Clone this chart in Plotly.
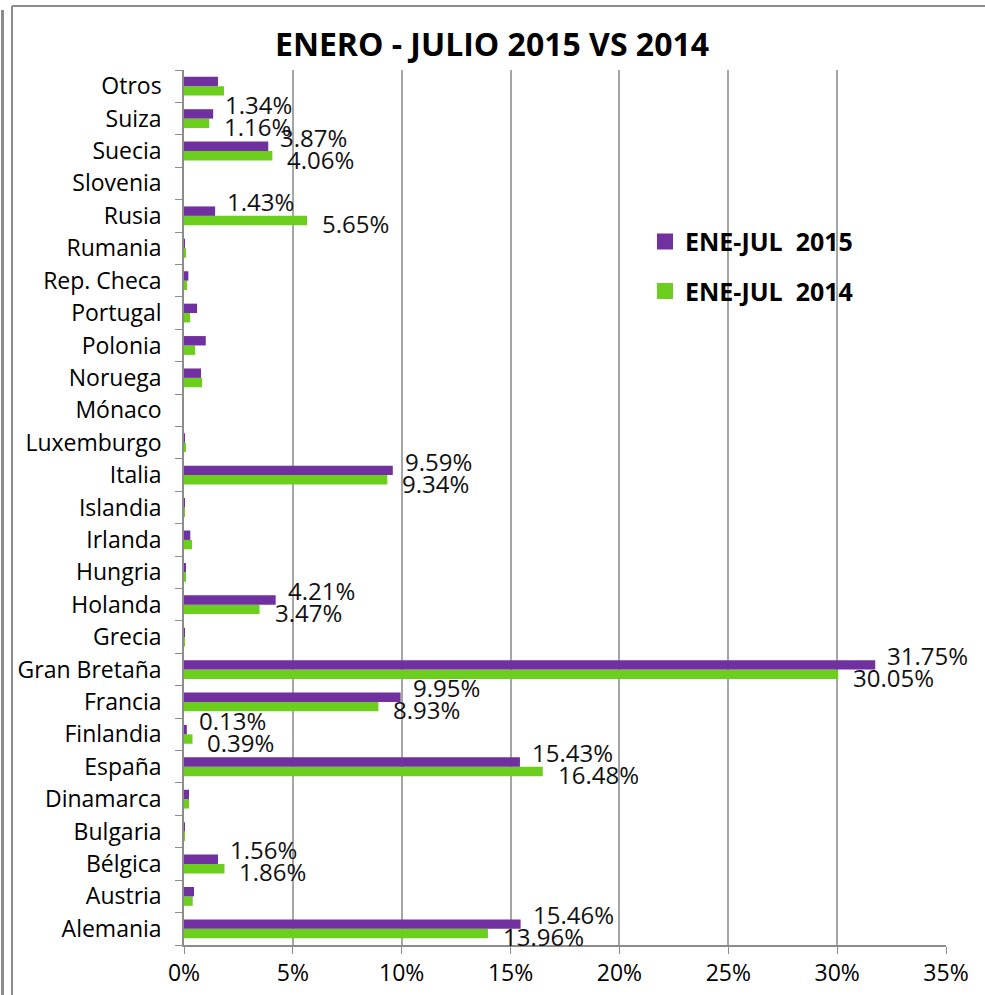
import plotly.graph_objects as go

countries = ["Alemania", "Austria", "Bélgica", "Bulgaria", "Dinamarca", "España",
             "Finlandia", "Francia", "Gran Bretaña", "Grecia", "Holanda", "Hungria",
             "Irlanda", "Islandia", "Italia", "Luxemburgo", "Mónaco", "Noruega",
             "Polonia", "Portugal", "Rep. Checa", "Rumania", "Rusia", "Slovenia",
             "Suecia", "Suiza", "Otros"]

ene_jul_2015 = [15.46, 0.46, 1.56, 0.01, 0.23, 15.43,
                0.13, 9.95, 31.75, 0.01, 4.21, 0.08,
                0.29, 0.01, 9.59, 0.02, 0.0, 0.78,
                1.00, 0.60, 0.20, 0.02, 1.43, 0.0,
                3.87, 1.34, 1.56]

ene_jul_2014 = [13.96, 0.40, 1.86, 0.02, 0.23, 16.48,
                0.39, 8.93, 30.05, 0.04, 3.47, 0.05,
                0.37, 0.04, 9.34, 0.05, 0.0, 0.83,
                0.51, 0.28, 0.14, 0.05, 5.65, 0.0,
                4.06, 1.16, 1.84]

labelled = ["Alemania", "Bélgica", "España", "Finlandia", "Francia", "Gran Bretaña",
            "Holanda", "Italia", "Rusia", "Suecia", "Suiza"]

x_ticks = [0, 5, 10, 15, 20, 25, 30, 35]
x_tick_text = ["0%", "5%", "10%", "15%", "20%", "25%", "30%", "35%"]

PURPLE = "#7030A0"
GREEN = "#6CCF1E"
FONT = "Open Sans"

fig = go.Figure()
fig.add_trace(go.Bar(y=countries, x=ene_jul_2014, orientation="h",
                     name="ENE-JUL\u00a0\u00a02014", marker_color=GREEN,
                     showlegend=False, marker_line_width=0))
fig.add_trace(go.Bar(y=countries, x=ene_jul_2015, orientation="h",
                     name="ENE-JUL\u00a0\u00a02015", marker_color=PURPLE,
                     showlegend=False, marker_line_width=0))
# legend entries with larger square swatches
fig.add_trace(go.Scatter(x=[None], y=[None], mode="markers", name="ENE-JUL\u00a0\u00a02015",
                         marker=dict(symbol="square", size=16, color=PURPLE),
                         legendgroup="g2015", legendrank=1, hoverinfo="skip"))
fig.add_trace(go.Scatter(x=[None], y=[None], mode="markers", name="ENE-JUL\u00a0\u00a02014",
                         marker=dict(symbol="square", size=16, color=GREEN),
                         legendgroup="g2014", legendrank=2, hoverinfo="skip"))

annotations = []
for c, v15, v14 in zip(countries, ene_jul_2015, ene_jul_2014):
    if c in labelled:
        annotations.append(dict(x=v15, y=c, xref="x", yref="y", text=f"{v15:.2f}%",
                                showarrow=False, xanchor="left", yanchor="middle",
                                xshift=10, yshift=14,
                                font=dict(family=FONT, size=24, color="#111")))
        annotations.append(dict(x=v14, y=c, xref="x", yref="y", text=f"{v14:.2f}%",
                                showarrow=False, xanchor="left", yanchor="middle",
                                xshift=13, yshift=-8,
                                font=dict(family=FONT, size=24, color="#111")))

L, R, T, B = 184, 39, 70, 50
W, H = 985, 995
pw, ph = W - L - R, H - T - B

def px_x(p):
    return (p - L) / pw

def px_y(p):
    return (H - B - p) / ph

shapes = [
    dict(type="line", xref="paper", yref="paper", x0=px_x(12), x1=px_x(12),
         y0=px_y(6), y1=px_y(1000), line=dict(color="#8c8c8c", width=2)),
    dict(type="line", xref="paper", yref="paper", x0=px_x(12), x1=px_x(990),
         y0=px_y(6), y1=px_y(6), line=dict(color="#8c8c8c", width=2)),
    dict(type="line", xref="paper", yref="paper", x0=px_x(2.5), x1=px_x(2.5),
         y0=px_y(10), y1=px_y(1000), line=dict(color="#8c8c8c", width=3)),
]

fig.update_layout(
    width=W, height=H,
    margin=dict(l=L, r=R, t=T, b=B, autoexpand=False),
    paper_bgcolor="white", plot_bgcolor="white",
    barmode="group", bargap=0.42, bargroupgap=0,
    title=dict(text="<b>ENERO - JULIO 2015 VS 2014</b>", x=492 / W, xref="container",
               xanchor="center", y=1 - 45 / H, yref="container", yanchor="middle",
               font=dict(family=FONT, size=32, color="black")),
    xaxis=dict(range=[0, 35], tickvals=x_ticks, ticktext=x_tick_text,
               showgrid=True, gridcolor="#a6a6a6", gridwidth=1.5,
               showline=True, linecolor="#8c8c8c", linewidth=1.5,
               ticks="outside", ticklen=7, tickcolor="#8c8c8c",
               tickfont=dict(family=FONT, size=23, color="black"),
               ticklabelstandoff=0,
               zeroline=False, fixedrange=True, automargin=False),
    yaxis=dict(type="category", categoryorder="array", categoryarray=countries,
               range=[-0.5, len(countries) - 0.5],
               showline=True, linecolor="#8c8c8c", linewidth=1.5,
               ticks="outside", ticklen=7, tickcolor="#8c8c8c", tickson="boundaries",
               tickfont=dict(family=FONT, size=23, color="black"),
               showgrid=False, ticklabelstandoff=16, automargin=False,
               fixedrange=True),
    legend=dict(x=0.605, y=0.83, xanchor="left", yanchor="top",
                traceorder="grouped", tracegroupgap=14,
                font=dict(family=FONT, size=25, color="black", weight="bold"),
                bgcolor="rgba(0,0,0,0)"),
    annotations=annotations,
    shapes=shapes,
    font=dict(family=FONT),
)

fig.write_html("out.html", config={"displayModeBar": False},
               post_script="document.body.style.margin='0';document.body.style.padding='0';")
